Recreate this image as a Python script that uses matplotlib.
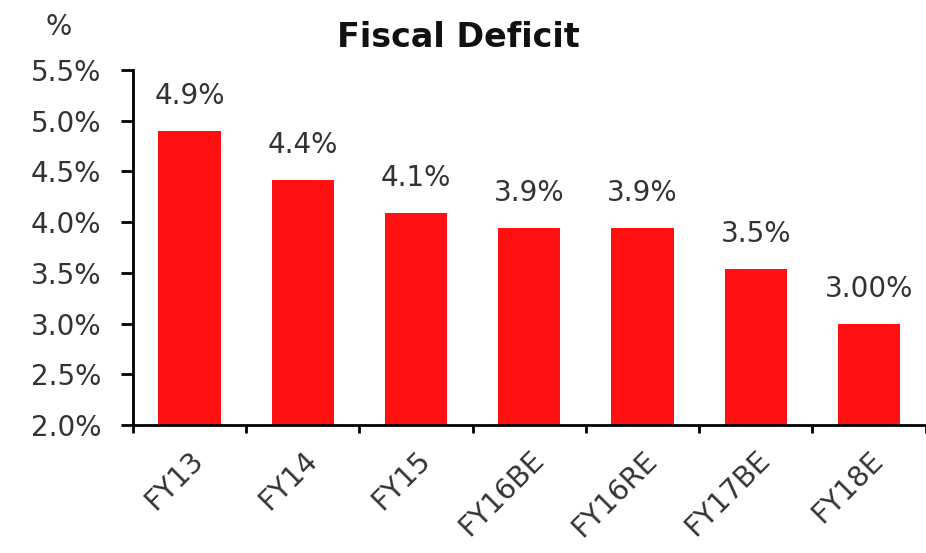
import numpy as np
import matplotlib.pyplot as plt
from matplotlib.ticker import FixedLocator

# dati
categories = ["FY13", "FY14", "FY15", "FY16BE", "FY16RE", "FY17BE", "FY18E"]
values = [4.9, 4.42, 4.09, 3.94, 3.94, 3.54, 3.0]
labels = ["4.9%", "4.4%", "4.1%", "3.9%", "3.9%", "3.5%", "3.00%"]
yticks = [2.0, 2.5, 3.0, 3.5, 4.0, 4.5, 5.0, 5.5]

plt.rcParams['font.family'] = ['DejaVu Sans']
txt = "#333333"

fig = plt.figure(figsize=(9.26, 5.53), dpi=100)
ax = fig.add_axes([0.1436, 0.2315, 0.856, 0.642])

x = np.arange(len(categories))
ax.bar(x, values, width=0.55, color="#ff1010", bottom=0, zorder=2)

# etichette sopra le barre
for xi, v, lab in zip(x, values, labels):
    ax.annotate(lab, (xi, v), xytext=(0, 15), textcoords="offset points",
                ha="center", va="bottom", fontsize=20, color=txt)

ax.set_ylim(2.0, 5.5)
ax.set_xlim(-0.5, len(categories) - 0.5)
ax.set_yticks(yticks)
ax.set_yticklabels([f"{t:.1f}%" for t in yticks], fontsize=20, color=txt)

ax.set_xticks(x)
ax.set_xticklabels(categories, fontsize=20.5, color=txt, rotation=45,
                   ha="right", va="top", rotation_mode="anchor")
ax.xaxis.set_minor_locator(FixedLocator(np.arange(-0.5, len(categories), 1.0)))
ax.tick_params(axis="x", which="major", length=0, pad=15)
ax.tick_params(axis="x", which="minor", length=6, width=2, direction="out")
ax.tick_params(axis="y", length=9, width=2, direction="out", pad=14)

for s in ["top", "right"]:
    ax.spines[s].set_visible(False)
ax.spines["left"].set_linewidth(2)
ax.spines["bottom"].set_linewidth(2)

fig.text(0.495, 0.932, "Fiscal Deficit", ha="center", va="center",
         fontsize=24, fontweight="bold", color="#111111")
fig.text(0.063, 0.952, "%", ha="center", va="center", fontsize=20, color=txt)

fig.savefig("out.png", dpi=100)
